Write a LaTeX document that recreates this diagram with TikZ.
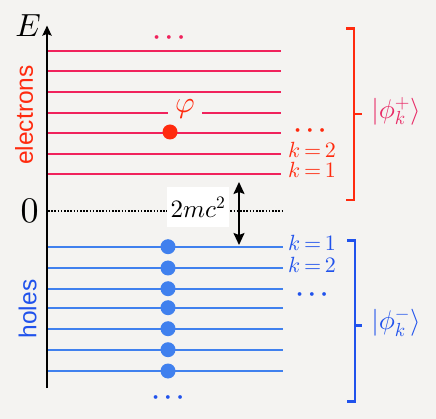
\documentclass[tikz,border=0pt]{standalone}
\usepackage{fontspec}
\newfontfamily\axisfont{Liberation Sans}
\DeclareFontShape{OML}{cmm}{m}{it}{<->cmmi10}{}
\DeclareFontShape{OMS}{cmsy}{m}{n}{<->cmsy10}{}
\DeclareFontShape{OMS}{cmsy}{b}{n}{<->cmbsy10}{}
\DeclareFontShape{OT1}{cmr}{m}{n}{<->cmr10}{}
\usetikzlibrary{arrows.meta,calc}
\definecolor{bgray}{RGB}{244,243,241}
\definecolor{elev}{RGB}{240,34,92}
\definecolor{ered}{RGB}{255,42,14}
\definecolor{epink}{RGB}{232,42,102}
\definecolor{hlev}{RGB}{64,128,238}
\definecolor{hblue}{RGB}{32,82,236}

\begin{document}
\begin{tikzpicture}[x=1pt,y=-1pt,
    level/.style={line width=2.2pt},
    dot/.style={circle,inner sep=0pt,minimum size=15pt},
    klab/.style={anchor=base west,inner sep=0pt,font=\fontsize{22}{22}\selectfont},
    dots/.style={inner sep=0pt,font=\fontsize{24}{24}\selectfont\boldmath},
    brace/.style={line width=2.6pt},
    ket/.style={anchor=west,inner sep=0pt,xshift=8pt,yshift=3pt,font=\fontsize{27}{27}\selectfont},
    side/.style={rotate=90,inner sep=0pt,font=\axisfont\fontsize{24.5}{24.5}\selectfont},
    gap arrow/.style={line width=1.8pt,
      {Stealth[length=12pt,width=11pt,inset=2pt]}-{Stealth[length=12pt,width=11pt,inset=2pt]}}]
  \fill[bgray] (0,0) rectangle (436,419);
  \useasboundingbox (0,0) rectangle (436,419);
  % energy levels
  \foreach \y [count=\i] in {174.3,153.7,132.7,113.3,92.3,71.3,50.7}
    {\coordinate (eL\i) at (47,\y); \coordinate (eR\i) at (281,\y);
     \draw[level,elev] (eL\i) -- (eR\i);}
  \foreach \y [count=\i] in {246.7,268,288.7,307.7,328.7,349.7,371}
    {\coordinate (hL\i) at (47,\y); \coordinate (hR\i) at (283,\y);
     \draw[level,hlev] (hL\i) -- (hR\i);
     \node[dot,fill=hlev] (hole\i) at (168,\y) {};}
  % zero and the gap
  \coordinate (zL) at (48,211); \coordinate (zR) at (283,211);
  \draw[line width=1.6pt,dash pattern=on 1.6pt off 1.6pt] (zL) -- (zR);
  \node[fill=white,minimum width=62pt,minimum height=40pt,inner sep=0pt,
        font=\fontsize{25}{25}\selectfont] (gap) at (198,207) {$2mc^2$};
  \coordinate (gap top) at (239,182); \coordinate (gap bot) at (239,245);
  \draw[gap arrow] (gap top) -- (gap bot);
  % axis
  \coordinate (o) at (47,388); \coordinate (top) at (47,25.5);
  \draw[line width=2.4pt,-{Stealth[length=10pt,width=9pt,inset=1.5pt]}] (o) -- (top);
  \node[font=\fontsize{32}{32}\selectfont] (E) at (28,26) {$E$};
  \node[font=\fontsize{36}{36}\selectfont] (zero) at (29.5,210.5) {$0$};
  \node[side,text=ered] (elab) at (24,115) {electrons};
  \node[side,text=hblue] (hlab) at (27.5,309) {holes};
  % the particle
  \node[fill=bgray,minimum width=34pt,minimum height=30pt,inner sep=0pt,text=ered,
        font=\fontsize{30}{30}\selectfont] (phi) at (185,108.5) {$\varphi$};
  \node[dot,fill=ered] (pdot) at (170,132) {};
  % k labels
  \node[dots,text=elev] (etop) at (169,37.5) {$\cdots$};
  \node[dots,text=hblue] (hbot) at (168,397.5) {$\cdots$};
  \node[dots,text=ered] (emore) at (310,130.5) {$\cdots$};
  \node[dots,text=hblue] (hmore) at (312,294.5) {$\cdots$};
  \node[klab,text=ered] (ek1) at ($(eR1)+(7,3.5)$) {$k\,{=}\,1$};
  \node[klab,text=ered] (ek2) at ($(eR2)+(7,3.5)$) {$k\,{=}\,2$};
  \node[klab,text=hblue] (hk1) at ($(hR1)+(5,4)$) {$k\,{=}\,1$};
  \node[klab,text=hblue] (hk2) at ($(hR2)+(5,4.5)$) {$k\,{=}\,2$};
  % brackets
  \coordinate (eb a) at (346,28.5); \coordinate (eb b) at (346,200);
  \draw[brace,ered] (eb a) -- ++(8,0) |- (eb b);
  \coordinate (eb m) at (354,114);
  \draw[brace,ered] (eb m) -- ++(8,0) node[ket,text=epink] (eket) {$|\phi_k^+\rangle$};
  \coordinate (hb a) at (347,240.7); \coordinate (hb b) at (347,401.7);
  \draw[brace,hblue] (hb a) -- ++(8,0) |- (hb b);
  \coordinate (hb m) at (355,325.7);
  \draw[brace,hblue] (hb m) -- ++(7,0) node[ket,text=hblue] (hket) {$|\phi_k^-\rangle$};
\end{tikzpicture}
\end{document}
